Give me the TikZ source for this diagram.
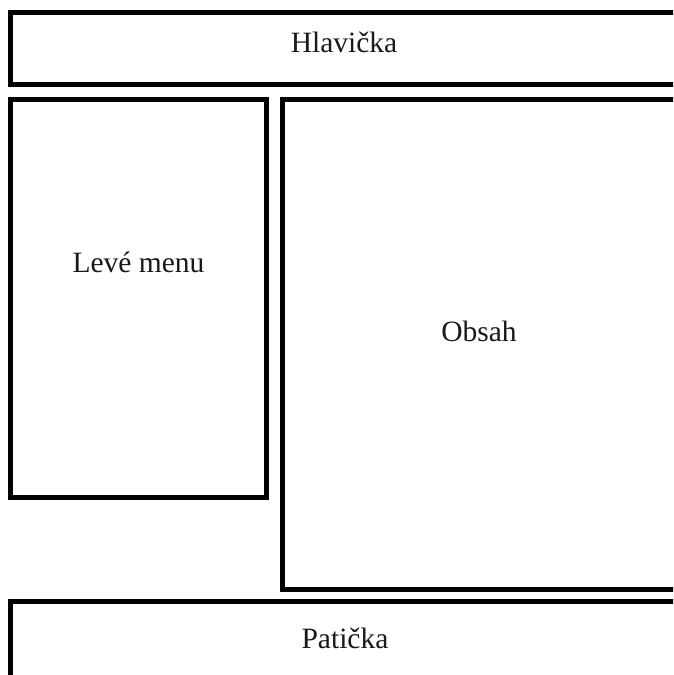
\documentclass[tikz,border=0pt]{standalone}
\usepackage{fontspec}
\setmainfont{Liberation Serif}
\begin{document}
\begin{tikzpicture}[x=1pt,y=1pt,
  panel/.style={draw=black, line width=5pt, inner sep=0pt, outer sep=0pt, anchor=north west, fill=none},
  lbl/.style={anchor=base, inner sep=0pt, font=\fontsize{29.5}{34}\selectfont, text=black!90}]
\useasboundingbox (0,0) rectangle (673,675);
\clip (0,0) rectangle (673,675);
\fill[white] (0,0) rectangle (673,675);
\node[panel, minimum width=666.5pt, minimum height=72pt] (header) at (10.5,662.5) {};
\node[panel, minimum width=255.5pt, minimum height=398.5pt] (menu) at (10.5,575.5) {};
\node[panel, minimum width=395pt, minimum height=490.5pt] (content) at (282,575.5) {};
\node[panel, minimum width=667.5pt, minimum height=80pt] (footer) at (10.5,73) {};
\node[lbl] (thead) at (344,622) {Hlavička};
\node[lbl] (tmenu) at (138.5,402) {Levé menu};
\node[lbl] (tcontent) at (479,333) {Obsah};
\node[lbl] (tfoot) at (345,27) {Patička};
\end{tikzpicture}
\end{document}
